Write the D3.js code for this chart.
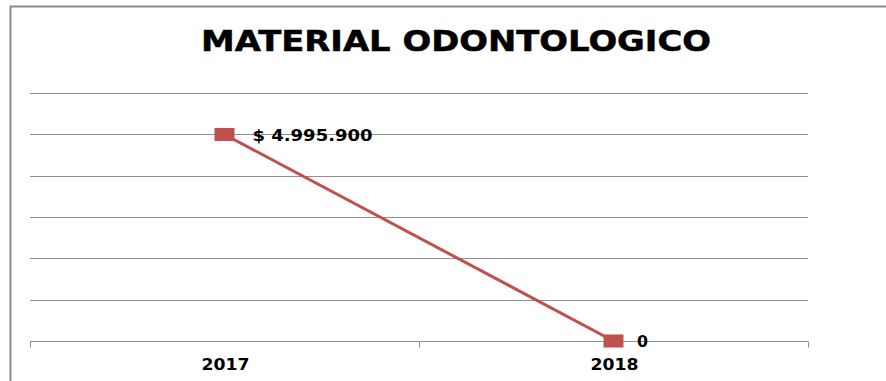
<!DOCTYPE html>
<html>
<head>
<meta charset="utf-8">
<script src="https://cdn.jsdelivr.net/npm/d3@7"></script>
<style>
  html, body { margin: 0; padding: 0; background: #fff; }
  svg { display: block; }
  text { font-family: "DejaVu Sans", sans-serif; font-weight: bold; fill: #000; }
</style>
</head>
<body>
<svg id="chart" width="886" height="381"></svg>
<script>
// Chart data
const title = "MATERIAL ODONTOLOGICO";
const years = ["2017", "2018"];
const amounts = [4995900, 0];
const valueLabels = ["$ 4.995.900", "0"];
const yTicks = [0, 1000000, 2000000, 3000000, 4000000, 5000000, 6000000];

const svg = d3.select("#chart");
const W = 886, H = 381;
const plot = { left: 30, right: 808, top: 93, bottom: 341 };

// Outer frame (left and top edges visible within the canvas)
svg.append("path")
  .attr("d", `M10.5,${H} L10.5,6.5 L${W},6.5`)
  .attr("fill", "none")
  .attr("stroke", "#8c8c8c")
  .attr("stroke-width", 2);

const x = d3.scalePoint().domain(years).range([plot.left, plot.right]).padding(0.5);
const y = d3.scaleLinear().domain([0, 6000000]).range([plot.bottom, plot.top]);

// Horizontal gridlines
svg.append("g")
  .selectAll("line")
  .data(yTicks.filter(d => d > 0))
  .join("line")
  .attr("x1", plot.left).attr("x2", plot.right)
  .attr("y1", d => Math.round(y(d)) + 0.5).attr("y2", d => Math.round(y(d)) + 0.5)
  .attr("stroke", "#8f8f8f").attr("stroke-width", 1);

// Category axis with boundary ticks
const axisY = Math.round(y(0)) + 0.5;
svg.append("line")
  .attr("x1", plot.left).attr("x2", plot.right)
  .attr("y1", axisY).attr("y2", axisY)
  .attr("stroke", "#8f8f8f").attr("stroke-width", 1);
const step = x.step();
const bounds = [plot.left, plot.left + step, plot.left + 2 * step];
svg.append("g").selectAll("line")
  .data(bounds)
  .join("line")
  .attr("x1", d => Math.round(d) + 0.5).attr("x2", d => Math.round(d) + 0.5)
  .attr("y1", axisY).attr("y2", axisY + 6)
  .attr("stroke", "#8f8f8f").attr("stroke-width", 1);

svg.append("g").selectAll("text")
  .data(years)
  .join("text")
  .attr("x", d => x(d) + 1)
  .attr("y", 370)
  .attr("text-anchor", "middle")
  .attr("font-size", 16)
  .attr("textLength", 48)
  .attr("lengthAdjust", "spacingAndGlyphs")
  .text(d => d);

// Title
svg.append("text")
  .attr("x", 456)
  .attr("y", 51)
  .attr("text-anchor", "middle")
  .attr("font-size", 27.5)
  .attr("stroke", "#000")
  .attr("stroke-width", 0.5)
  .attr("textLength", 510)
  .attr("lengthAdjust", "spacingAndGlyphs")
  .text(title);

// Series line
const pts = years.map((yr, i) => ({ yr, v: amounts[i], label: valueLabels[i] }));
svg.append("path")
  .datum(pts)
  .attr("fill", "none")
  .attr("stroke", "#C0504D")
  .attr("stroke-width", 3)
  .attr("d", d3.line().x(d => x(d.yr)).y(d => y(d.v)));

// Square markers
svg.append("g").selectAll("rect")
  .data(pts)
  .join("rect")
  .attr("x", d => x(d.yr) - 10)
  .attr("y", d => y(d.v) - 6.5)
  .attr("width", 20)
  .attr("height", 13)
  .attr("fill", "#C0504D");

// Value labels
svg.append("g").selectAll("text")
  .data(pts)
  .join("text")
  .attr("x", d => x(d.yr) + (d.label.length > 2 ? 28 : 23.5))
  .attr("y", d => y(d.v) + 6)
  .attr("font-size", 16)
  .attr("textLength", d => d.label.length > 2 ? 120 : 11)
  .attr("lengthAdjust", "spacingAndGlyphs")
  .text(d => d.label);
</script>
</body>
</html>
